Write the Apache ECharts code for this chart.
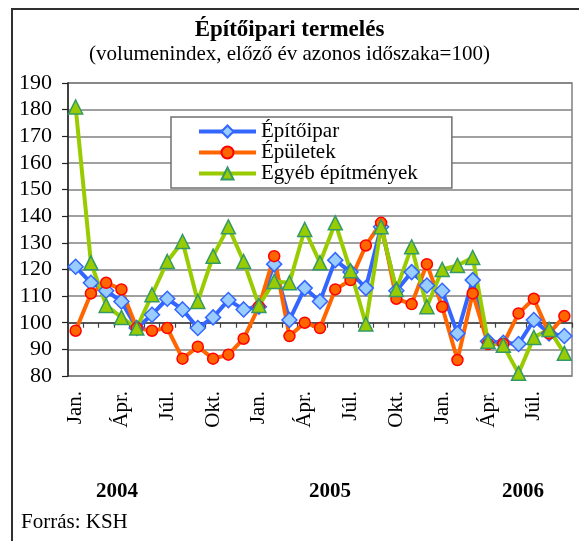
<!DOCTYPE html>
<html>
<head>
<meta charset="utf-8">
<script src="https://cdn.jsdelivr.net/npm/echarts@6/dist/echarts.min.js"></script>
<style>
  html, body { margin: 0; padding: 0; background: #fff; }
  #chart { width: 579px; height: 541px; }
</style>
</head>
<body>
<div id="chart"></div>
<script>
// havi adatok 2004 jan - 2006 szept
var monthNames = ["Jan.", "Febr.", "Márc.", "Ápr.", "Máj.", "Jún.", "Júl.", "Aug.", "Szept.", "Okt.", "Nov.", "Dec."];
var categories = [];
for (var y = 0; y < 3; y++) {
  for (var m = 0; m < 12; m++) {
    if (categories.length < 33) categories.push(monthNames[m]);
  }
}
var yearLabels = ["2004", "2005", "2006"];
var yTicks = [80, 190, 10]; // min, max, lépés

var epitoipar = [121, 115, 112, 108, 98, 103, 109, 105, 98, 102, 108.5, 105,
  106, 122, 101, 113, 108, 123.5, 119, 113, 136, 112, 119, 114,
  112, 96, 116, 93, 92.5, 92, 101, 96, 95];
var epuletek = [97, 111, 115, 112.5, 98, 97, 98, 86.5, 91, 86.5, 88, 94,
  106, 125, 95, 100, 98, 112.5, 116, 129, 137.5, 109, 107, 122,
  106, 86, 111, 92, 92, 103.5, 109, 96, 102.5];
var egyeb = [181, 122.5, 106.5, 102, 98, 110.5, 123, 130.5, 108, 125, 136, 123,
  106.5, 115.5, 115, 135, 122.5, 137.5, 119.5, 99.5, 136, 112.5, 128.5, 106,
  120, 121.5, 124.5, 93, 91.5, 81, 94.5, 97.5, 88.5];

var font = "'Liberation Serif', 'Times New Roman', serif";
var gridTop = 83, gridBottom = 165;
var gridHeight = 541 - gridTop - gridBottom;
// a 100-as vonalon futó tengely eltolása
var axisOffset = -gridHeight * (100 - yTicks[0]) / (yTicks[1] - yTicks[0]);

var myChart = echarts.init(document.getElementById("chart"));

var option = {
  animation: false,
  backgroundColor: "#fff",
  title: {
    text: "Építőipari termelés",
    subtext: "(volumenindex, előző év azonos időszaka=100)",
    left: "center",
    top: 11,
    itemGap: -2,
    textStyle: { fontFamily: font, fontSize: 23, fontWeight: "bold", color: "#000", lineHeight: 28 },
    subtextStyle: { fontFamily: font, fontSize: 21, color: "#000", lineHeight: 24 }
  },
  legend: {
    orient: "vertical",
    left: 171,
    top: 117,
    itemWidth: 57,
    itemHeight: 15,
    itemGap: 0,
    itemTextGap: 5,
    padding: [4, 34, 4, 26],
    borderColor: "#707070",
    borderWidth: 1.5,
    backgroundColor: "#fff",
    lineStyle: { width: 4 },
    textStyle: { fontFamily: font, fontSize: 21, color: "#000", lineHeight: 20.5 },
    data: ["Építőipar", "Épületek", "Egyéb építmények"]
  },
  grid: {
    left: 68,
    right: 7,
    top: gridTop,
    bottom: gridBottom,
    show: true,
    borderColor: "#808080",
    borderWidth: 1.5,
    backgroundColor: "transparent"
  },
  xAxis: [
    {
      type: "category",
      data: categories,
      boundaryGap: true,
      axisLine: { show: false },
      axisTick: { show: false },
      axisLabel: {
        interval: 2,
        rotate: 90,
        margin: 15,
        fontFamily: font,
        fontSize: 21,
        color: "#000"
      }
    },
    {
      type: "category",
      data: categories,
      boundaryGap: true,
      position: "bottom",
      offset: axisOffset,
      axisLine: { show: true, onZero: false, lineStyle: { color: "#404040", width: 1.5 } },
      axisTick: { show: true, interval: 0, length: 5, lineStyle: { color: "#404040", width: 1.2 } },
      axisLabel: { show: false }
    }
  ],
  yAxis: {
    type: "value",
    min: yTicks[0],
    max: yTicks[1],
    interval: yTicks[2],
    axisLine: { show: true, lineStyle: { color: "#202020", width: 1.5 } },
    axisTick: { show: true, length: 6, lineStyle: { color: "#202020", width: 1.2 } },
    splitLine: { show: true, lineStyle: { color: "#808080", width: 1.5 } },
    axisLabel: { margin: 16, fontFamily: font, fontSize: 22, color: "#000" }
  },
  graphic: [
    {
      type: "rect",
      shape: { x: 12, y: 9, width: 1000, height: 1000 },
      style: { fill: "none", stroke: "#303030", lineWidth: 2 },
      silent: true
    },
    {
      type: "text", x: 117, y: 492,
      style: { text: yearLabels[0], font: "bold 21px " + font, fill: "#000", align: "center", verticalAlign: "middle" }
    },
    {
      type: "text", x: 330, y: 492,
      style: { text: yearLabels[1], font: "bold 21px " + font, fill: "#000", align: "center", verticalAlign: "middle" }
    },
    {
      type: "text", x: 523, y: 492,
      style: { text: yearLabels[2], font: "bold 21px " + font, fill: "#000", align: "center", verticalAlign: "middle" }
    },
    {
      type: "text", x: 21, y: 522,
      style: { text: "Forrás: KSH", font: "21px " + font, fill: "#000", align: "left", verticalAlign: "middle" }
    }
  ],
  series: [
    {
      name: "Építőipar",
      type: "line",
      xAxisIndex: 0,
      data: epitoipar,
      showAllSymbol: true,
      symbol: "diamond",
      symbolSize: 15,
      lineStyle: { color: "#3366FF", width: 4 },
      itemStyle: { color: "#99CCFF", borderColor: "#3366FF", borderWidth: 1.5 }
    },
    {
      name: "Épületek",
      type: "line",
      xAxisIndex: 0,
      data: epuletek,
      showAllSymbol: true,
      symbol: "circle",
      symbolSize: 11,
      lineStyle: { color: "#FF6600", width: 4 },
      itemStyle: { color: "#FF6600", borderColor: "#FF0000", borderWidth: 1.5 }
    },
    {
      name: "Egyéb építmények",
      type: "line",
      xAxisIndex: 0,
      data: egyeb,
      showAllSymbol: true,
      symbol: "triangle",
      symbolSize: 14,
      lineStyle: { color: "#99CC00", width: 4 },
      itemStyle: { color: "#99CC00", borderColor: "#339966", borderWidth: 1.5 }
    }
  ]
};

myChart.setOption(option);
</script>
</body>
</html>
